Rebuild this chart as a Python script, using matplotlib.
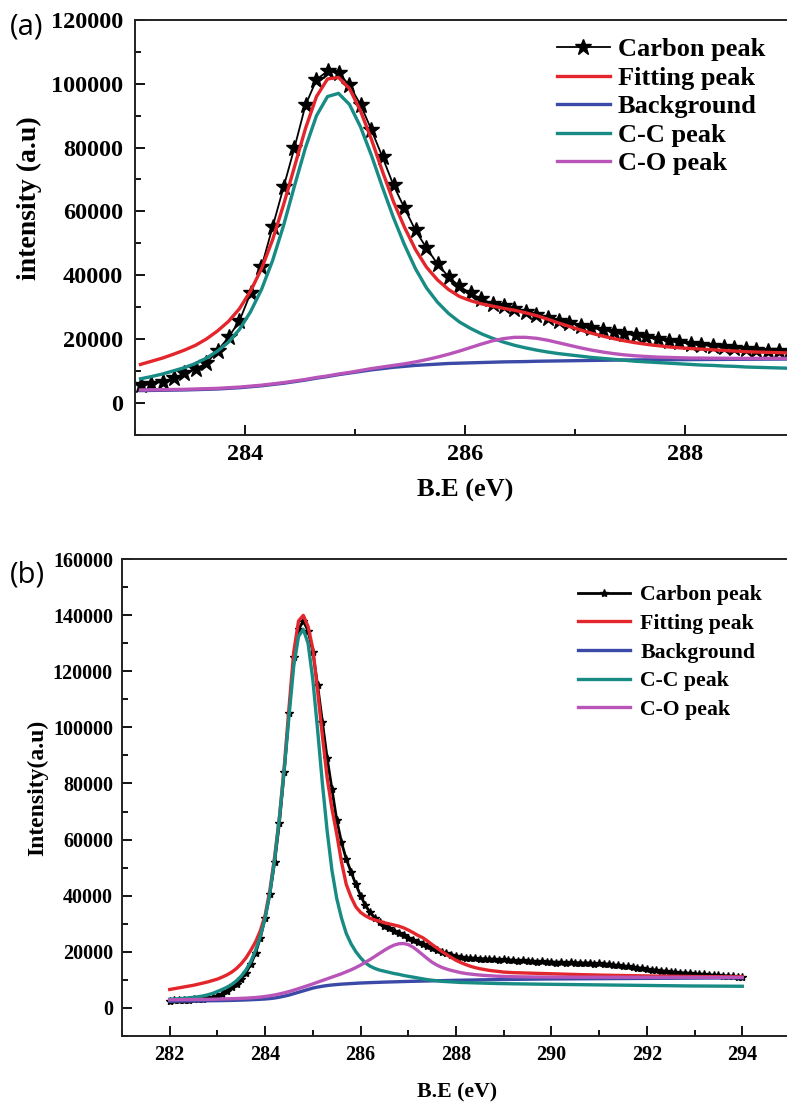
import numpy as np
import matplotlib
matplotlib.use("Agg")
import matplotlib.pyplot as plt
from matplotlib.ticker import MultipleLocator

plt.rcParams['font.family'] = ['Liberation Serif', 'DejaVu Serif']
plt.rcParams['font.weight'] = 'bold'

# ---- panel (a) ----
be_a = np.round(np.arange(283.05, 289.0, 0.1), 2)
carbon_a = [5500, 6000, 6600, 7600, 9300, 10600, 12400, 16300, 20500, 25700,
            34300, 42600, 55000, 67500, 80000, 93300, 101300, 104000, 103500, 99500,
            93500, 85500, 77000, 68200, 61000, 54000, 48500, 43500, 39500, 36500,
            34300, 32500, 31000, 30200, 29300, 28300, 27400, 26500, 25700, 25000,
            24200, 23500, 22900, 22300, 21700, 21100, 20500, 19900, 19400, 18900,
            18500, 18100, 17700, 17400, 17100, 16800, 16500, 16300, 16100, 15900]
fit_a = [12000, 13000, 14000, 15200, 16500, 18000, 20000, 22500, 25500, 29500,
         35000, 42000, 51000, 62000, 74000, 86000, 96000, 101500, 102000, 98500,
         91500, 82500, 72500, 63000, 55000, 48000, 42500, 38500, 35500, 33300,
         32000, 31000, 30300, 29600, 29000, 28200, 27300, 26200, 25000, 23900,
         22800, 21800, 20900, 20100, 19400, 18800, 18300, 17900, 17500, 17200,
         17000, 16800, 16600, 16400, 16200, 16000, 15900, 15800, 15700, 15600]
bg_a = [3800, 3850, 3900, 3950, 4000, 4100, 4200, 4300, 4500, 4700,
        5000, 5300, 5700, 6100, 6600, 7100, 7700, 8200, 8800, 9300,
        9800, 10300, 10700, 11100, 11400, 11700, 11900, 12100, 12300, 12400,
        12500, 12600, 12700, 12800, 12850, 12900, 13000, 13050, 13100, 13150,
        13200, 13250, 13300, 13350, 13400, 13420, 13440, 13460, 13480, 13500,
        13520, 13540, 13560, 13580, 13600, 13620, 13640, 13660, 13680, 13700]
cc_a = [7500, 8200, 9000, 10000, 11000, 12300, 14000, 16200, 19000, 23000,
        28500, 35500, 44500, 55500, 68000, 80000, 90000, 96000, 97000, 93500,
        86500, 77500, 67500, 58000, 49500, 42000, 36000, 31500, 28000, 25300,
        23300, 21600, 20200, 19000, 18000, 17200, 16500, 15900, 15400, 15000,
        14600, 14200, 13900, 13600, 13300, 13000, 12800, 12600, 12400, 12200,
        12000, 11800, 11700, 11500, 11400, 11200, 11100, 11000, 10900, 10800]
co_a = [4000, 4050, 4100, 4150, 4200, 4300, 4400, 4500, 4700, 4900,
        5200, 5500, 5900, 6300, 6800, 7300, 7900, 8400, 9000, 9500,
        10100, 10700, 11200, 11700, 12200, 12800, 13500, 14300, 15200, 16200,
        17300, 18400, 19400, 20100, 20500, 20500, 20200, 19600, 18800, 18000,
        17200, 16500, 15900, 15400, 15000, 14700, 14500, 14300, 14200, 14100,
        14000, 14000, 13950, 13950, 13900, 13900, 13900, 13900, 13900, 13900]

# ---- panel (b) ----
be_b = np.round(np.arange(282.0, 294.01, 0.1), 1)
carbon_b = [2500, 2600, 2700, 2800, 2900, 3000, 3100, 3200, 3400, 3700,
            4300, 5000, 6000, 7200, 8600, 10200, 12500, 15500, 19500, 25000,
            32000, 40500, 52000, 66000, 84000, 105000, 125000, 135000, 138000, 134500,
            127000, 115000, 102000, 89000, 78000, 67000, 59000, 53000, 48500, 44000,
            40000, 36500, 34000, 32000, 30500, 29300, 28300, 27400, 26600, 25800,
            25000, 24200, 23400, 22600, 21900, 21200, 20600, 20000, 19400, 18900,
            18500, 18100, 17900, 17600, 17700, 17400, 17500, 17200, 17400, 17100,
            17200, 16900, 17000, 16700, 16900, 16600, 16700, 16400, 16600, 16300,
            16400, 16100, 16300, 16000, 16200, 15900, 16100, 15800, 16000, 15700,
            15800, 15500, 15600, 15200, 15100, 14800, 14700, 14400, 14300, 14000,
            13800, 13500, 13400, 13100, 13000, 12700, 12700, 12400, 12400, 12200,
            12100, 11900, 11900, 11700, 11600, 11500, 11400, 11300, 11200, 11100,
            10900]
fit_b = [6500, 6800, 7100, 7400, 7700, 8000, 8400, 8800, 9200, 9700,
         10200, 10900, 11700, 12700, 14000, 15700, 17800, 20500, 23500, 27500,
         33000, 42000, 54000, 68000, 86000, 107000, 127000, 138000, 140000, 136000,
         128000, 113000, 97000, 82000, 71000, 62000, 52000, 44000, 39500, 36000,
         34000, 32800, 31900, 31300, 30800, 30300, 29900, 29500, 29100, 28500,
         27700, 26800, 25800, 25000, 23800, 22500, 21300, 20100, 19000, 17900,
         16900, 16100, 15400, 14800, 14300, 13900, 13600, 13300, 13100, 12900,
         12700, 12600, 12500, 12450, 12400, 12350, 12300, 12250, 12200, 12150,
         12100, 12050, 12000, 11950, 11900, 11850, 11800, 11760, 11720, 11680,
         11640, 11600, 11570, 11540, 11510, 11480, 11450, 11420, 11390, 11360,
         11330, 11300, 11280, 11260, 11240, 11220, 11200, 11180, 11160, 11140,
         11120, 11100, 11090, 11080, 11070, 11060, 11050, 11040, 11030, 11020,
         11000]
bg_b = [2300, 2320, 2340, 2360, 2380, 2400, 2420, 2440, 2460, 2480,
        2500, 2530, 2560, 2600, 2650, 2700, 2760, 2830, 2910, 3000,
        3100, 3250, 3450, 3750, 4100, 4500, 5000, 5500, 6000, 6500,
        7000, 7350, 7650, 7900, 8100, 8250, 8400, 8500, 8600, 8700,
        8800, 8870, 8940, 9000, 9060, 9120, 9170, 9220, 9270, 9320,
        9370, 9410, 9450, 9490, 9530, 9570, 9610, 9650, 9690, 9730,
        9770, 9800, 9830, 9860, 9890, 9920, 9950, 9980, 10010, 10040,
        10060, 10080, 10100, 10120, 10140, 10160, 10180, 10200, 10220, 10240,
        10250, 10260, 10270, 10280, 10290, 10300, 10310, 10320, 10330, 10340,
        10350, 10360, 10370, 10380, 10390, 10400, 10410, 10420, 10430, 10440,
        10450, 10460, 10470, 10480, 10490, 10500, 10510, 10520, 10530, 10540,
        10550, 10560, 10570, 10580, 10590, 10600, 10610, 10620, 10630, 10640,
        10650]
cc_b = [3000, 3100, 3200, 3350, 3500, 3700, 3900, 4200, 4600, 5100,
        5800, 6500, 7300, 8300, 9600, 11300, 13500, 16500, 20500, 25500,
        32000, 41000, 53000, 68000, 85000, 104000, 122000, 132500, 135000, 130000,
        117000, 99000, 80000, 63000, 49000, 39000, 32000, 26500, 22800, 20000,
        17800, 16000, 14800, 14000, 13400, 13000, 12600, 12200, 11900, 11500,
        11200, 10900, 10600, 10300, 10000, 9800, 9600, 9400, 9300, 9200,
        9100, 9000, 8950, 8900, 8850, 8800, 8750, 8700, 8650, 8600,
        8580, 8550, 8520, 8500, 8470, 8450, 8420, 8400, 8370, 8350,
        8330, 8310, 8290, 8270, 8250, 8230, 8210, 8190, 8170, 8150,
        8130, 8110, 8090, 8070, 8050, 8030, 8010, 7990, 7970, 7950,
        7930, 7910, 7890, 7870, 7850, 7830, 7810, 7790, 7770, 7750,
        7740, 7730, 7720, 7710, 7700, 7690, 7680, 7670, 7660, 7650,
        7640]
co_b = [2800, 2820, 2840, 2860, 2880, 2900, 2920, 2950, 2980, 3010,
        3050, 3100, 3150, 3200, 3260, 3330, 3400, 3500, 3620, 3780,
        4000, 4250, 4550, 4900, 5300, 5750, 6250, 6800, 7350, 7900,
        8500, 9100, 9700, 10300, 10900, 11500, 12100, 12800, 13500, 14300,
        15200, 16200, 17200, 18300, 19400, 20500, 21500, 22300, 22800, 22900,
        22500, 21600, 20300, 18900, 17500, 16200, 15200, 14400, 13800, 13300,
        12900, 12500, 12200, 12000, 11800, 11650, 11500, 11400, 11300, 11200,
        11150, 11100, 11050, 11020, 11000, 10980, 10960, 10950, 10940, 10930,
        10920, 10910, 10900, 10900, 10890, 10890, 10880, 10880, 10880, 10870,
        10870, 10870, 10860, 10860, 10860, 10860, 10850, 10850, 10850, 10850,
        10850, 10850, 10840, 10840, 10840, 10840, 10840, 10830, 10830, 10830,
        10830, 10830, 10820, 10820, 10820, 10820, 10810, 10810, 10810, 10810,
        10800]

labels = ['Carbon peak', 'Fitting peak', 'Background', 'C-C peak', 'C-O peak']
RED, BLUE, TEAL, MAG = '#e3262b', '#3a4aa6', '#178b84', '#b955b9'

W, H = 787, 1107
fig = plt.figure(figsize=(W / 100, H / 100), dpi=100)


def px_axes(x0, y0, x1, y1):
    return fig.add_axes([x0 / W, 1 - y1 / H, (x1 - x0) / W, (y1 - y0) / H])


def style(ax, tick_fs, xpad, ypad):
    for s in ax.spines.values():
        s.set_linewidth(1.4)
        s.set_color('#222222')
    ax.tick_params(which='both', direction='in', width=1.3, top=False, right=False)
    ax.tick_params(which='major', length=7)
    ax.tick_params(which='minor', length=4)
    ax.tick_params(axis='x', labelsize=tick_fs, pad=xpad)
    ax.tick_params(axis='y', labelsize=tick_fs, pad=ypad)
    for t in ax.get_xticklabels() + ax.get_yticklabels():
        t.set_fontweight('bold')


# (a)
ax1 = px_axes(135, 20, 795, 434.6)
ax1.plot(be_a, carbon_a, color='black', lw=1.3, marker='*', ms=12, label=labels[0])
ax1.plot(be_a, fit_a, color=RED, lw=2.4, label=labels[1])
ax1.plot(be_a, bg_a, color=BLUE, lw=2.4, label=labels[2])
ax1.plot(be_a, cc_a, color=TEAL, lw=2.4, label=labels[3])
ax1.plot(be_a, co_a, color=MAG, lw=2.4, label=labels[4])
ax1.set_xlim(283, 289)
ax1.set_ylim(-10000, 120000)
ax1.xaxis.set_major_locator(MultipleLocator(2))
ax1.xaxis.set_minor_locator(MultipleLocator(1))
ax1.yaxis.set_major_locator(MultipleLocator(20000))
ax1.yaxis.set_minor_locator(MultipleLocator(10000))
style(ax1, 17.5, 7, 8.5)
ax1.legend(loc='upper left', bbox_to_anchor=(557 / W, 1 - 38 / H), bbox_transform=fig.transFigure,
           frameon=False, handlelength=2.0, handletextpad=0.3,
           labelspacing=0.19, borderpad=0, borderaxespad=0,
           prop={'weight': 'bold', 'size': 19})

fig.text(29 / W, 1 - 198 / H, 'intensity (a.u)', rotation=90, ha='center', va='center',
         fontsize=20, fontweight='bold')
fig.text(465 / W, 1 - 490 / H, 'B.E (eV)', ha='center', va='center', fontsize=19, fontweight='bold')
fig.text(10 / W, 1 - 27 / H, '(a)', ha='left', va='center', fontsize=21, fontweight='normal',
         family=['Open Sans', 'DejaVu Sans'])

# (b)
ax2 = px_axes(122, 559.3, 790, 1035.7)
ax2.plot(be_b, carbon_b, color='black', lw=2.0, marker='*', ms=6, label=labels[0])
ax2.plot(be_b, fit_b, color=RED, lw=2.4, label=labels[1])
ax2.plot(be_b, bg_b, color=BLUE, lw=2.4, label=labels[2])
ax2.plot(be_b, cc_b, color=TEAL, lw=2.4, label=labels[3])
ax2.plot(be_b, co_b, color=MAG, lw=2.4, label=labels[4])
ax2.set_xlim(281, 295)
ax2.set_ylim(-10000, 160000)
ax2.xaxis.set_major_locator(MultipleLocator(2))
ax2.xaxis.set_minor_locator(MultipleLocator(1))
ax2.yaxis.set_major_locator(MultipleLocator(20000))
ax2.yaxis.set_minor_locator(MultipleLocator(10000))
style(ax2, 14.5, 7, 6.5)
ax2.legend(loc='upper left', bbox_to_anchor=(578 / W, 1 - 585 / H), bbox_transform=fig.transFigure,
           frameon=False, handlelength=2.4, handletextpad=0.45,
           labelspacing=0.385, borderpad=0, borderaxespad=0,
           prop={'weight': 'bold', 'size': 15.7})

fig.text(37.5 / W, 1 - 788 / H, 'Intensity(a.u)', rotation=90, ha='center', va='center',
         fontsize=17, fontweight='bold')
fig.text(457 / W, 1 - 1092 / H, 'B.E (eV)', ha='center', va='center', fontsize=15.7, fontweight='bold')
fig.text(10 / W, 1 - 575 / H, '(b)', ha='left', va='center', fontsize=21, fontweight='normal',
         family=['Open Sans', 'DejaVu Sans'])

fig.savefig('out.png', dpi=100)
